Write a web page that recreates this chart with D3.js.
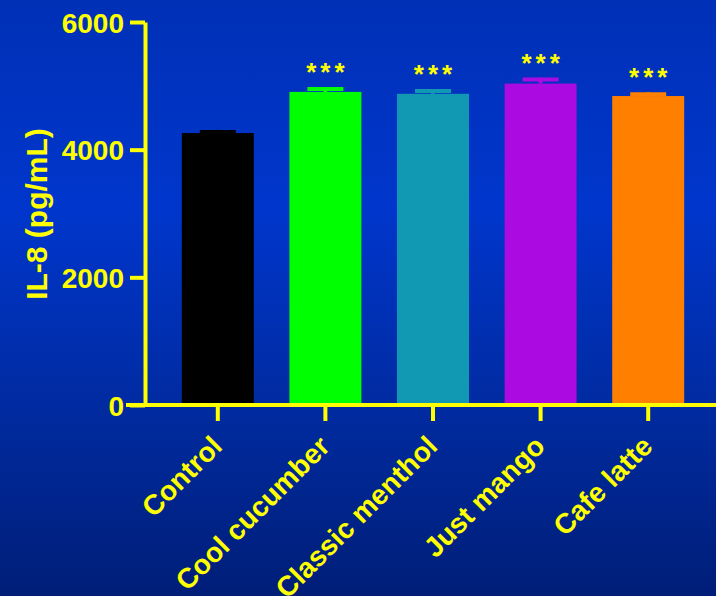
<!DOCTYPE html>
<html>
<head>
<meta charset="utf-8">
<script src="https://cdn.jsdelivr.net/npm/d3@7"></script>
<style>
  html, body { margin: 0; padding: 0; }
  svg { display: block; }
  text { font-family: "Liberation Sans", Arial, sans-serif; font-weight: bold; fill: #ffff00; }
</style>
</head>
<body>
<div id="chart"></div>
<script>
// data
let categories = ['Control', 'Cool cucumber', 'Classic menthol', 'Just mango', 'Cafe latte'];
let means = [4260, 4905, 4875, 5035, 4840];
let errors = [50, 75, 75, 95, 58];
let stars = ['', '***', '***', '***', '***'];
let barColors = ['#000000', '#00ff00', '#1199b4', '#ab0ae0', '#ff8000'];
let yTicks = [0, 2000, 4000, 6000];

let svg_width = 716;
let svg_height = 596;

let svg = d3.select('#chart').append('svg')
  .attr('width', svg_width)
  .attr('height', svg_height);

// background gradient
let defs = svg.append('defs');
let grad = defs.append('linearGradient')
  .attr('id', 'bg')
  .attr('x1', 0).attr('y1', 0).attr('x2', 0).attr('y2', 1);
grad.append('stop').attr('offset', '0%').attr('stop-color', '#0030b6');
grad.append('stop').attr('offset', '35%').attr('stop-color', '#0036cc');
grad.append('stop').attr('offset', '70%').attr('stop-color', '#002a9e');
grad.append('stop').attr('offset', '100%').attr('stop-color', '#001e78');

svg.append('rect')
  .attr('width', svg_width)
  .attr('height', svg_height)
  .attr('fill', 'url(#bg)');

// scales
let x = d3.scaleBand()
  .domain(categories)
  .range([164, 702])
  .paddingInner(0.331)
  .paddingOuter(0.1655);

let y = d3.scaleLinear()
  .domain([0, 6000])
  .range([405, 22]);

let yellow = '#ffff00';

// bars
svg.selectAll('.bar')
  .data(categories)
  .enter()
  .append('rect')
  .attr('x', d => x(d))
  .attr('y', (d, i) => y(means[i]))
  .attr('width', x.bandwidth())
  .attr('height', (d, i) => y(0) - y(means[i]))
  .attr('fill', (d, i) => barColors[i]);

// error bars (upper only)
let capW = x.bandwidth() / 2;
categories.forEach(function(c, i) {
  let cx = x(c) + x.bandwidth() / 2;
  let top = y(means[i] + errors[i]);
  svg.append('line')
    .attr('x1', cx).attr('x2', cx)
    .attr('y1', y(means[i])).attr('y2', top)
    .attr('stroke', barColors[i])
    .attr('stroke-width', 4);
  svg.append('line')
    .attr('x1', cx - capW / 2).attr('x2', cx + capW / 2)
    .attr('y1', top + 2).attr('y2', top + 2)
    .attr('stroke', barColors[i])
    .attr('stroke-width', 4);
  if (stars[i]) {
    svg.append('text')
      .attr('x', cx + 2)
      .attr('y', top - 6)
      .attr('text-anchor', 'middle')
      .attr('font-size', '26px')
      .attr('font-weight', 'normal')
      .attr('letter-spacing', '4px')
      .text(stars[i]);
  }
});

// y axis
let yAxis = svg.append('g')
  .attr('transform', 'translate(145,0)')
  .call(d3.axisLeft(y).tickValues(yTicks).tickFormat(d3.format('d'))
    .tickSize(15).tickPadding(6).tickSizeOuter(0));
yAxis.select('.domain').attr('stroke', yellow).attr('stroke-width', 4);
yAxis.selectAll('.tick line').attr('stroke', yellow).attr('stroke-width', 4);
yAxis.selectAll('.tick text')
  .attr('fill', yellow)
  .attr('font-size', '28px')
  .attr('font-family', '"Liberation Sans", Arial, sans-serif')
  .attr('font-weight', 'bold')
  .attr('dy', '0.36em');

// x axis
let xAxis = svg.append('g')
  .attr('transform', 'translate(0,405)')
  .call(d3.axisBottom(x).tickSize(16).tickSizeOuter(0).tickFormat(''));
xAxis.select('.domain').attr('d', 'M126,0H716').attr('stroke', yellow).attr('stroke-width', 4);
xAxis.selectAll('.tick line').attr('stroke', yellow).attr('stroke-width', 4);

// rotated category labels
svg.selectAll('.xlabel')
  .data(categories)
  .enter()
  .append('text')
  .attr('text-anchor', 'end')
  .attr('font-size', '28px')
  .attr('transform', d => `translate(${x(d) + x.bandwidth() / 2 + 6}, 448) rotate(-45)`)
  .text(d => d);

// y label
svg.append('text')
  .attr('text-anchor', 'middle')
  .attr('font-size', '30px')
  .attr('transform', 'translate(47, 214) rotate(-90)')
  .text('IL-8 (pg/mL)');
</script>
</body>
</html>
